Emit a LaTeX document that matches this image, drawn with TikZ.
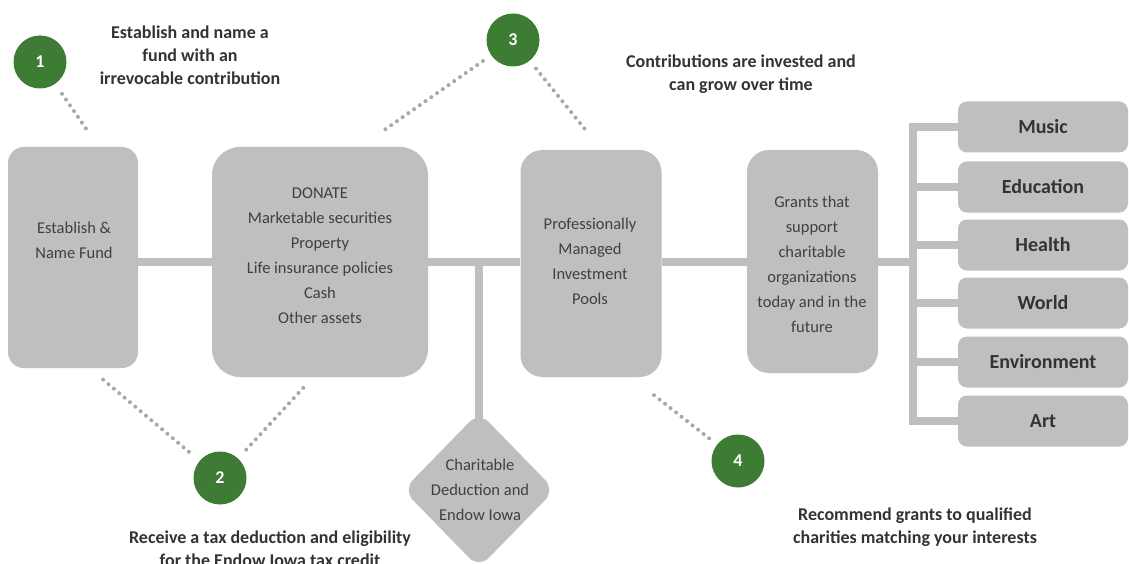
\documentclass[tikz,border=0pt]{standalone}
\usepackage{fontspec}
\setmainfont{Carlito}
\usetikzlibrary{shapes.geometric}
\definecolor{boxgray}{HTML}{BFBFBF}
\definecolor{dotgray}{HTML}{A8A8A8}
\definecolor{stepgreen}{HTML}{3E7B34}
\definecolor{txt}{HTML}{333333}
\definecolor{boxtxt}{HTML}{404040}
\begin{document}
\begin{tikzpicture}[x=1pt,y=-1pt,
  box/.style={fill=boxgray, draw=none, inner sep=0pt},
  boxtext/.style={text=boxtxt, align=center, inner sep=0pt, font=\fontsize{16.5}{25}\selectfont},
  cat/.style={fill=boxgray, rounded corners=9pt, minimum width=170pt, minimum height=51pt, inner sep=0pt, font=\bfseries\fontsize{20}{24}\selectfont, text=txt},
  conn/.style={draw=boxgray, line width=8pt},
  dots/.style={draw=dotgray, line width=4pt, line cap=round, dash pattern=on 0pt off 7pt},
  num/.style={circle, fill=stepgreen, minimum size=53pt, inner sep=0pt, text=white, font=\bfseries\fontsize{18}{20}\selectfont},
  caption/.style={align=center, text=txt, inner sep=0pt, font=\bfseries\fontsize{18}{23}\selectfont}]
\useasboundingbox[fill=white] (0,0) rectangle (1129,564);

% main boxes
\node[box, rounded corners=16pt, minimum width=130pt, minimum height=221pt] (b1) at (73,257.5) {};
\node[box, rounded corners=28pt, minimum width=216pt, minimum height=230pt] (b2) at (320,262) {};
\node[box, rounded corners=22pt, minimum width=141pt, minimum height=227pt] (b3) at (591,263.5) {};
\node[box, rounded corners=22pt, minimum width=131pt, minimum height=223pt] (b4) at (812.5,261.5) {};

\node[boxtext] (t1) at (74,240) {Establish \&\\Name Fund};
\node[boxtext] (t2) at (320,256) {DONATE\\Marketable securities\\Property\\Life insurance policies\\Cash\\Other assets};
\node[boxtext] (t3) at (590,261) {Professionally\\Managed\\Investment\\Pools};
\node[boxtext] (t4) at (812,264) {Grants that\\support\\charitable\\organizations\\today and in the\\future};

% category boxes
\node[cat] (music) at (1043,127) {Music};
\node[cat] (edu) at (1043,187) {Education};
\node[cat] (health) at (1043,245) {Health};
\node[cat] (world) at (1043,303) {World};
\node[cat] (env) at (1043,362) {Environment};
\node[cat] (art) at (1043,421) {Art};

% connectors
\coordinate (sp) at (0,262);
\coordinate (br) at (913,262);
\coordinate (tj) at (479,262);
\draw[conn] (b1.east |- sp) -- (b2.west |- sp);
\draw[conn] (b2.east |- sp) -- (b3.west |- sp);
\draw[conn] (b3.east |- sp) -- (b4.west |- sp);
\draw[conn] (b4.east |- sp) -- (br);
\draw[conn] (music.west) -- (music.west -| br) -- (art.west -| br) -- (art.west);
\draw[conn] (edu.west) -- (edu.west -| br);
\draw[conn] (health.west) -- (health.west -| br);
\draw[conn] (world.west) -- (world.west -| br);
\draw[conn] (env.west) -- (env.west -| br);

% diamond
\node[diamond, fill=boxgray, minimum width=152pt, minimum height=156pt, inner sep=0pt, rounded corners=14pt] (dia) at (479,490) {};
\draw[conn] (tj) -- ([yshift=-10pt]dia.north);
\node[boxtext] (diat) at (480,490) {Charitable\\Deduction and\\Endow Iowa};

% numbered circles
\node[num] (n1) at (40,62) {1};
\node[num] (n2) at (220,478) {2};
\node[num] (n3) at (513,40) {3};
\node[num] (n4) at (738,461) {4};

% dotted leaders
\coordinate (d1) at (87,130);
\coordinate (d2a) at (100,377);
\coordinate (d2b) at (305,386);
\coordinate (d3a) at (380,133);
\coordinate (d3b) at (588,133);
\coordinate (d4) at (650,392);
\draw[dots, shorten <=12pt] (n1) -- (d1);
\draw[dots, shorten <=14pt] (n2) -- (d2a);
\draw[dots, shorten <=12pt] (n2) -- (d2b);
\draw[dots, shorten <=10pt] (n3) -- (d3a);
\draw[dots, shorten <=10pt] (n3) -- (d3b);
\draw[dots, shorten <=10pt] (n4) -- (d4);

% captions
\node[caption] (c1) at (190,55) {Establish and name a\\fund with an\\irrevocable contribution};
\node[caption] (c3) at (741,74) {Contributions are invested and\\can grow over time};
\node[caption] (c2) at (270,549) {Receive a tax deduction and eligibility\\for the Endow Iowa tax credit};
\node[caption] (c4) at (915,527) {Recommend grants to qualified\\charities matching your interests};
\end{tikzpicture}
\end{document}
